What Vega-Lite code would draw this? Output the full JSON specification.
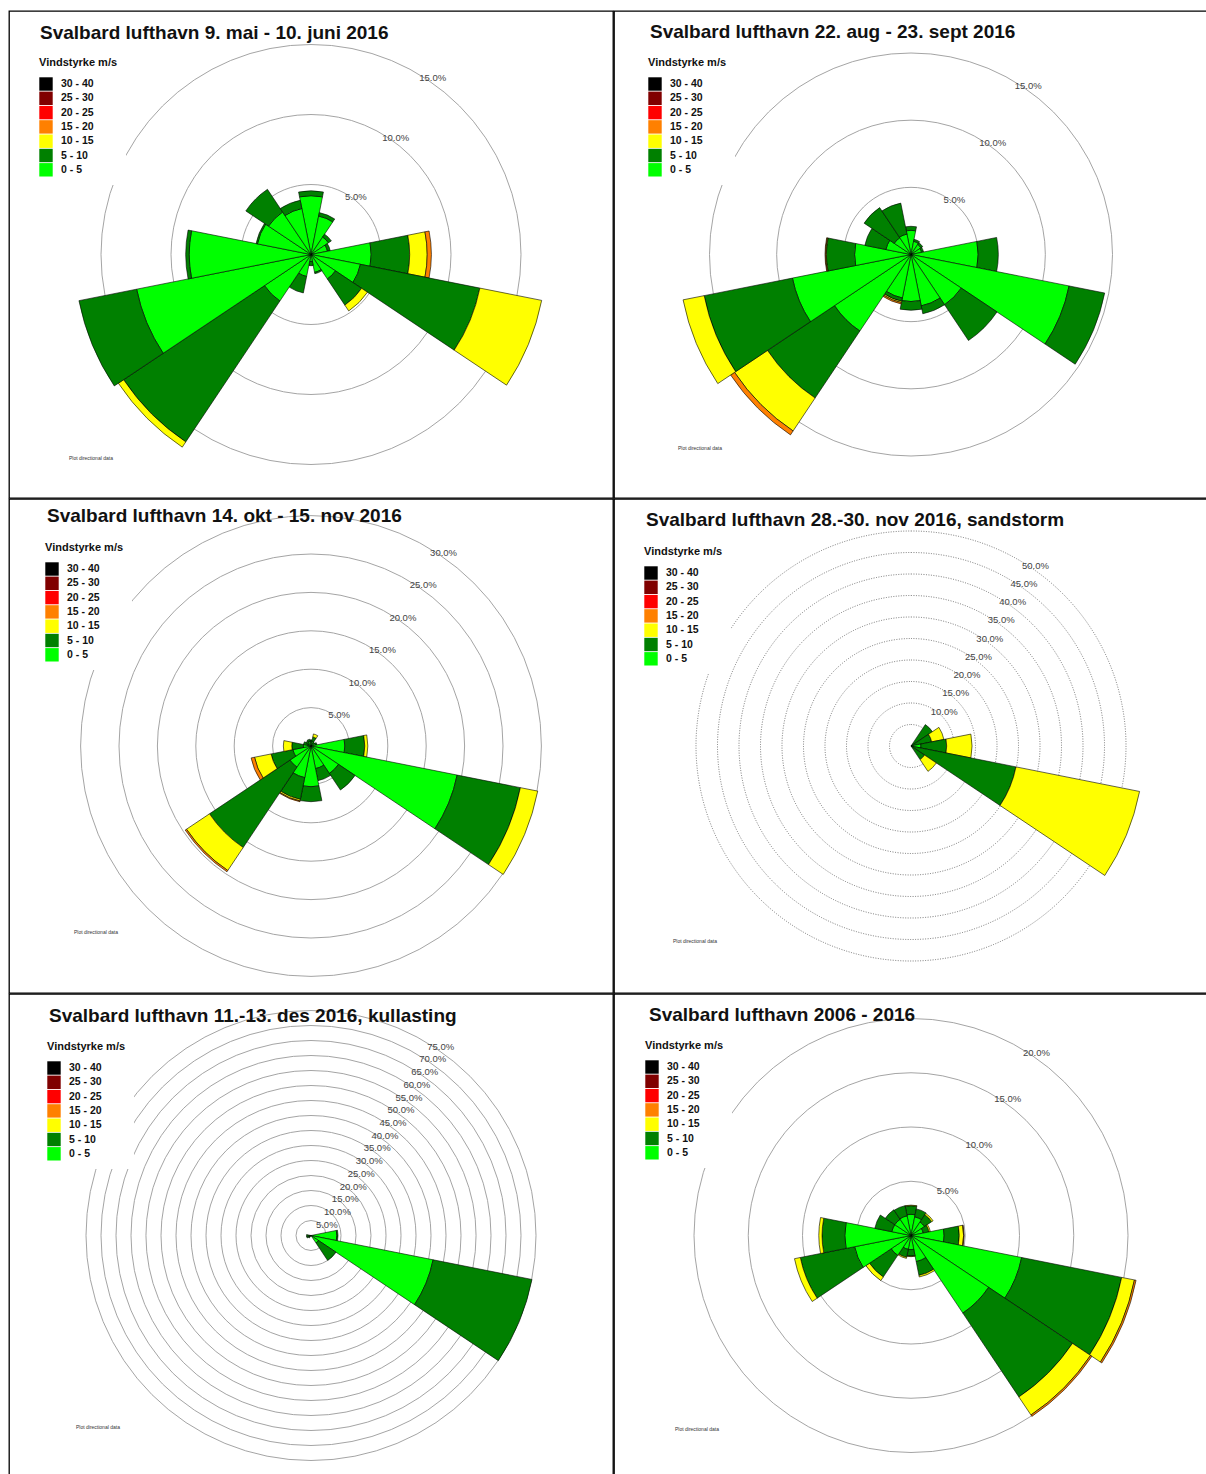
{
"$schema": "https://vega.github.io/schema/vega-lite/v6.json",
"padding": {"left": 8, "top": 10, "right": 0, "bottom": 0},
"spacing": -3,
"resolve": {"scale": {"color": "independent", "radius": "independent", "theta": "independent"}, "legend": {"color": "independent"}},
"config": {
  "view": {"stroke": "#000", "strokeWidth": 1.3},
  "font": "Liberation Sans",
  "title": {"fontSize": 19, "fontWeight": "bold", "color": "#111"},
  "legend": {"symbolType": "square", "symbolSize": 180, "symbolStrokeWidth": 0, "labelFontSize": 10.5, "labelFontWeight": "bold", "labelColor": "#111", "titleFontSize": 11, "titleFontWeight": "bold", "titleColor": "#111", "fillColor": "white", "padding": 8, "rowPadding": 0.3, "labelOffset": 8, "titlePadding": 9}
},
"datasets": {
"sec": [
{"p":1,"d":"N","s":"0 - 5","k":1,"v":4.2},{"p":1,"d":"N","s":"5 - 10","k":2,"v":0.35},
{"p":1,"d":"NNE","s":"0 - 5","k":1,"v":2.8},{"p":1,"d":"NNE","s":"5 - 10","k":2,"v":0.25},
{"p":1,"d":"NE","s":"0 - 5","k":1,"v":1.5},{"p":1,"d":"NE","s":"5 - 10","k":2,"v":0.25},
{"p":1,"d":"ENE","s":"0 - 5","k":1,"v":1.2},{"p":1,"d":"ENE","s":"5 - 10","k":2,"v":0.2},
{"p":1,"d":"E","s":"0 - 5","k":1,"v":4.3},{"p":1,"d":"E","s":"5 - 10","k":2,"v":2.75},{"p":1,"d":"E","s":"10 - 15","k":3,"v":1.25},{"p":1,"d":"E","s":"15 - 20","k":4,"v":0.3},
{"p":1,"d":"ESE","s":"0 - 5","k":1,"v":3.6},{"p":1,"d":"ESE","s":"5 - 10","k":2,"v":8.7},{"p":1,"d":"ESE","s":"10 - 15","k":3,"v":4.5},
{"p":1,"d":"SE","s":"0 - 5","k":1,"v":2.1},{"p":1,"d":"SE","s":"5 - 10","k":2,"v":2.25},{"p":1,"d":"SE","s":"10 - 15","k":3,"v":0.5},
{"p":1,"d":"SSE","s":"0 - 5","k":1,"v":1.3},{"p":1,"d":"SSE","s":"5 - 10","k":2,"v":0.1},
{"p":1,"d":"S","s":"0 - 5","k":1,"v":0.5},{"p":1,"d":"S","s":"5 - 10","k":2,"v":0.3},
{"p":1,"d":"SSW","s":"0 - 5","k":1,"v":1.6},{"p":1,"d":"SSW","s":"5 - 10","k":2,"v":1.2},
{"p":1,"d":"SW","s":"0 - 5","k":1,"v":4.0},{"p":1,"d":"SW","s":"5 - 10","k":2,"v":12.1},{"p":1,"d":"SW","s":"10 - 15","k":3,"v":0.45},
{"p":1,"d":"WSW","s":"0 - 5","k":1,"v":12.7},{"p":1,"d":"WSW","s":"5 - 10","k":2,"v":4.2},
{"p":1,"d":"W","s":"0 - 5","k":1,"v":8.7},{"p":1,"d":"W","s":"5 - 10","k":2,"v":0.25},
{"p":1,"d":"WNW","s":"0 - 5","k":1,"v":3.9},{"p":1,"d":"WNW","s":"5 - 10","k":2,"v":0.1},
{"p":1,"d":"NW","s":"0 - 5","k":1,"v":3.65},{"p":1,"d":"NW","s":"5 - 10","k":2,"v":1.95},
{"p":1,"d":"NNW","s":"0 - 5","k":1,"v":3.35},{"p":1,"d":"NNW","s":"5 - 10","k":2,"v":0.6},

{"p":2,"d":"N","s":"0 - 5","k":1,"v":1.8},{"p":2,"d":"N","s":"5 - 10","k":2,"v":0.3},
{"p":2,"d":"NNE","s":"0 - 5","k":1,"v":1.0},{"p":2,"d":"NNE","s":"5 - 10","k":2,"v":0.15},
{"p":2,"d":"NE","s":"0 - 5","k":1,"v":0.9},{"p":2,"d":"NE","s":"5 - 10","k":2,"v":0.15},
{"p":2,"d":"ENE","s":"0 - 5","k":1,"v":0.8},{"p":2,"d":"ENE","s":"5 - 10","k":2,"v":0.15},
{"p":2,"d":"E","s":"0 - 5","k":1,"v":5.0},{"p":2,"d":"E","s":"5 - 10","k":2,"v":1.5},
{"p":2,"d":"ESE","s":"0 - 5","k":1,"v":12.0},{"p":2,"d":"ESE","s":"5 - 10","k":2,"v":2.7},
{"p":2,"d":"SE","s":"0 - 5","k":1,"v":4.5},{"p":2,"d":"SE","s":"5 - 10","k":2,"v":3.2},
{"p":2,"d":"SSE","s":"0 - 5","k":1,"v":3.9},{"p":2,"d":"SSE","s":"5 - 10","k":2,"v":0.6},
{"p":2,"d":"S","s":"0 - 5","k":1,"v":3.5},{"p":2,"d":"S","s":"5 - 10","k":2,"v":0.65},
{"p":2,"d":"SSW","s":"0 - 5","k":1,"v":3.3},{"p":2,"d":"SSW","s":"5 - 10","k":2,"v":0.25},{"p":2,"d":"SSW","s":"10 - 15","k":3,"v":0.1},{"p":2,"d":"SSW","s":"15 - 20","k":4,"v":0.1},
{"p":2,"d":"SW","s":"0 - 5","k":1,"v":6.85},{"p":2,"d":"SW","s":"5 - 10","k":2,"v":6.0},{"p":2,"d":"SW","s":"10 - 15","k":3,"v":2.95},{"p":2,"d":"SW","s":"15 - 20","k":4,"v":0.35},
{"p":2,"d":"WSW","s":"0 - 5","k":1,"v":9.0},{"p":2,"d":"WSW","s":"5 - 10","k":2,"v":6.7},{"p":2,"d":"WSW","s":"10 - 15","k":3,"v":1.6},
{"p":2,"d":"W","s":"0 - 5","k":1,"v":4.2},{"p":2,"d":"W","s":"5 - 10","k":2,"v":2.1},{"p":2,"d":"W","s":"10 - 15","k":3,"v":0.05},{"p":2,"d":"W","s":"15 - 20","k":4,"v":0.05},
{"p":2,"d":"WNW","s":"0 - 5","k":1,"v":1.9},{"p":2,"d":"WNW","s":"5 - 10","k":2,"v":1.6},
{"p":2,"d":"NW","s":"0 - 5","k":1,"v":1.5},{"p":2,"d":"NW","s":"5 - 10","k":2,"v":2.7},
{"p":2,"d":"NNW","s":"0 - 5","k":1,"v":1.55},{"p":2,"d":"NNW","s":"5 - 10","k":2,"v":2.35},

{"p":3,"d":"N","s":"0 - 5","k":1,"v":0.5},{"p":3,"d":"N","s":"5 - 10","k":2,"v":0.3},
{"p":3,"d":"NNE","s":"0 - 5","k":1,"v":0.6},{"p":3,"d":"NNE","s":"5 - 10","k":2,"v":0.6},{"p":3,"d":"NNE","s":"10 - 15","k":3,"v":0.4},
{"p":3,"d":"NE","s":"0 - 5","k":1,"v":0.4},{"p":3,"d":"NE","s":"5 - 10","k":2,"v":0.2},
{"p":3,"d":"ENE","s":"0 - 5","k":1,"v":0.6},{"p":3,"d":"ENE","s":"5 - 10","k":2,"v":0.2},
{"p":3,"d":"E","s":"0 - 5","k":1,"v":4.4},{"p":3,"d":"E","s":"5 - 10","k":2,"v":2.6},{"p":3,"d":"E","s":"10 - 15","k":3,"v":0.4},
{"p":3,"d":"ESE","s":"0 - 5","k":1,"v":19.4},{"p":3,"d":"ESE","s":"5 - 10","k":2,"v":8.4},{"p":3,"d":"ESE","s":"10 - 15","k":3,"v":2.3},
{"p":3,"d":"SE","s":"0 - 5","k":1,"v":4.3},{"p":3,"d":"SE","s":"5 - 10","k":2,"v":2.6},
{"p":3,"d":"SSE","s":"0 - 5","k":1,"v":3.0},{"p":3,"d":"SSE","s":"5 - 10","k":2,"v":1.6},
{"p":3,"d":"S","s":"0 - 5","k":1,"v":5.3},{"p":3,"d":"S","s":"5 - 10","k":2,"v":1.95},
{"p":3,"d":"SSW","s":"0 - 5","k":1,"v":4.2},{"p":3,"d":"SSW","s":"5 - 10","k":2,"v":2.9},{"p":3,"d":"SSW","s":"10 - 15","k":3,"v":0.2},{"p":3,"d":"SSW","s":"15 - 20","k":4,"v":0.1},
{"p":3,"d":"SW","s":"0 - 5","k":1,"v":3.3},{"p":3,"d":"SW","s":"5 - 10","k":2,"v":12.6},{"p":3,"d":"SW","s":"10 - 15","k":3,"v":3.6},{"p":3,"d":"SW","s":"15 - 20","k":4,"v":0.2},
{"p":3,"d":"WSW","s":"0 - 5","k":1,"v":2.4},{"p":3,"d":"WSW","s":"5 - 10","k":2,"v":2.9},{"p":3,"d":"WSW","s":"10 - 15","k":3,"v":2.2},{"p":3,"d":"WSW","s":"15 - 20","k":4,"v":0.45},
{"p":3,"d":"W","s":"0 - 5","k":1,"v":1.0},{"p":3,"d":"W","s":"5 - 10","k":2,"v":1.5},{"p":3,"d":"W","s":"10 - 15","k":3,"v":1.1},
{"p":3,"d":"WNW","s":"0 - 5","k":1,"v":0.4},{"p":3,"d":"WNW","s":"5 - 10","k":2,"v":0.6},
{"p":3,"d":"NW","s":"0 - 5","k":1,"v":0.4},{"p":3,"d":"NW","s":"5 - 10","k":2,"v":0.4},
{"p":3,"d":"NNW","s":"0 - 5","k":1,"v":0.6},{"p":3,"d":"NNW","s":"5 - 10","k":2,"v":0.3},

{"p":4,"d":"NE","s":"0 - 5","k":1,"v":0.1},{"p":4,"d":"NE","s":"5 - 10","k":2,"v":5.9},
{"p":4,"d":"ENE","s":"0 - 5","k":1,"v":0.1},{"p":4,"d":"ENE","s":"5 - 10","k":2,"v":4.8},{"p":4,"d":"ENE","s":"10 - 15","k":3,"v":2.9},
{"p":4,"d":"E","s":"0 - 5","k":1,"v":2.3},{"p":4,"d":"E","s":"5 - 10","k":2,"v":6.0},{"p":4,"d":"E","s":"10 - 15","k":3,"v":5.9},
{"p":4,"d":"ESE","s":"0 - 5","k":1,"v":0.3},{"p":4,"d":"ESE","s":"5 - 10","k":2,"v":24.6},{"p":4,"d":"ESE","s":"10 - 15","k":3,"v":29.3},
{"p":4,"d":"SE","s":"0 - 5","k":1,"v":0.1},{"p":4,"d":"SE","s":"5 - 10","k":2,"v":3.7},{"p":4,"d":"SE","s":"10 - 15","k":3,"v":3.3},

{"p":5,"d":"E","s":"0 - 5","k":1,"v":8.6},{"p":5,"d":"E","s":"5 - 10","k":2,"v":0.4},
{"p":5,"d":"ESE","s":"0 - 5","k":1,"v":41.5},{"p":5,"d":"ESE","s":"5 - 10","k":2,"v":33.6},
{"p":5,"d":"SE","s":"0 - 5","k":1,"v":3.0},{"p":5,"d":"SE","s":"5 - 10","k":2,"v":7.0},
{"p":5,"d":"SW","s":"5 - 10","k":2,"v":1.0},
{"p":5,"d":"WSW","s":"5 - 10","k":2,"v":1.5},
{"p":5,"d":"W","s":"0 - 5","k":1,"v":0.3},{"p":5,"d":"W","s":"5 - 10","k":2,"v":1.2},

{"p":6,"d":"N","s":"0 - 5","k":1,"v":1.95},{"p":6,"d":"N","s":"5 - 10","k":2,"v":0.8},{"p":6,"d":"N","s":"10 - 15","k":3,"v":0.05},
{"p":6,"d":"NNE","s":"0 - 5","k":1,"v":1.75},{"p":6,"d":"NNE","s":"5 - 10","k":2,"v":0.75},
{"p":6,"d":"NE","s":"0 - 5","k":1,"v":1.5},{"p":6,"d":"NE","s":"5 - 10","k":2,"v":0.8},{"p":6,"d":"NE","s":"10 - 15","k":3,"v":0.15},
{"p":6,"d":"ENE","s":"0 - 5","k":1,"v":1.15},{"p":6,"d":"ENE","s":"5 - 10","k":2,"v":0.55},{"p":6,"d":"ENE","s":"10 - 15","k":3,"v":0.12},
{"p":6,"d":"E","s":"0 - 5","k":1,"v":3.05},{"p":6,"d":"E","s":"5 - 10","k":2,"v":1.4},{"p":6,"d":"E","s":"10 - 15","k":3,"v":0.4},{"p":6,"d":"E","s":"15 - 20","k":4,"v":0.05},
{"p":6,"d":"ESE","s":"0 - 5","k":1,"v":10.4},{"p":6,"d":"ESE","s":"5 - 10","k":2,"v":9.4},{"p":6,"d":"ESE","s":"10 - 15","k":3,"v":1.2},{"p":6,"d":"ESE","s":"15 - 20","k":4,"v":0.15},
{"p":6,"d":"SE","s":"0 - 5","k":1,"v":8.6},{"p":6,"d":"SE","s":"5 - 10","k":2,"v":9.3},{"p":6,"d":"SE","s":"10 - 15","k":3,"v":2.0},{"p":6,"d":"SE","s":"15 - 20","k":4,"v":0.15},
{"p":6,"d":"SSE","s":"0 - 5","k":1,"v":2.45},{"p":6,"d":"SSE","s":"5 - 10","k":2,"v":1.3},{"p":6,"d":"SSE","s":"10 - 15","k":3,"v":0.15},
{"p":6,"d":"S","s":"0 - 5","k":1,"v":1.3},{"p":6,"d":"S","s":"5 - 10","k":2,"v":0.6},{"p":6,"d":"S","s":"10 - 15","k":3,"v":0.05},
{"p":6,"d":"SSW","s":"0 - 5","k":1,"v":1.3},{"p":6,"d":"SSW","s":"5 - 10","k":2,"v":0.75},{"p":6,"d":"SSW","s":"10 - 15","k":3,"v":0.1},
{"p":6,"d":"SW","s":"0 - 5","k":1,"v":2.2},{"p":6,"d":"SW","s":"5 - 10","k":2,"v":2.4},{"p":6,"d":"SW","s":"10 - 15","k":3,"v":0.4},
{"p":6,"d":"WSW","s":"0 - 5","k":1,"v":5.3},{"p":6,"d":"WSW","s":"5 - 10","k":2,"v":5.1},{"p":6,"d":"WSW","s":"10 - 15","k":3,"v":0.55},
{"p":6,"d":"W","s":"0 - 5","k":1,"v":6.1},{"p":6,"d":"W","s":"5 - 10","k":2,"v":2.1},{"p":6,"d":"W","s":"10 - 15","k":3,"v":0.3},
{"p":6,"d":"WNW","s":"0 - 5","k":1,"v":1.8},{"p":6,"d":"WNW","s":"5 - 10","k":2,"v":1.6},
{"p":6,"d":"NW","s":"0 - 5","k":1,"v":1.8},{"p":6,"d":"NW","s":"5 - 10","k":2,"v":1.05},
{"p":6,"d":"NNW","s":"0 - 5","k":1,"v":1.85},{"p":6,"d":"NNW","s":"5 - 10","k":2,"v":0.95}
],
"rings": [
{"p":1,"r":5,"lab":"5.0%"},{"p":1,"r":10,"lab":"10.0%"},{"p":1,"r":15,"lab":"15.0%"},
{"p":2,"r":5,"lab":"5.0%"},{"p":2,"r":10,"lab":"10.0%"},{"p":2,"r":15,"lab":"15.0%"},
{"p":3,"r":5,"lab":"5.0%"},{"p":3,"r":10,"lab":"10.0%"},{"p":3,"r":15,"lab":"15.0%"},{"p":3,"r":20,"lab":"20.0%"},{"p":3,"r":25,"lab":"25.0%"},{"p":3,"r":30,"lab":"30.0%"},
{"p":4,"r":5,"lab":""},{"p":4,"r":10,"lab":"10.0%"},{"p":4,"r":15,"lab":"15.0%"},{"p":4,"r":20,"lab":"20.0%"},{"p":4,"r":25,"lab":"25.0%"},{"p":4,"r":30,"lab":"30.0%"},{"p":4,"r":35,"lab":"35.0%"},{"p":4,"r":40,"lab":"40.0%"},{"p":4,"r":45,"lab":"45.0%"},{"p":4,"r":50,"lab":"50.0%"},
{"p":5,"r":5,"lab":"5.0%"},{"p":5,"r":10,"lab":"10.0%"},{"p":5,"r":15,"lab":"15.0%"},{"p":5,"r":20,"lab":"20.0%"},{"p":5,"r":25,"lab":"25.0%"},{"p":5,"r":30,"lab":"30.0%"},{"p":5,"r":35,"lab":"35.0%"},{"p":5,"r":40,"lab":"40.0%"},{"p":5,"r":45,"lab":"45.0%"},{"p":5,"r":50,"lab":"50.0%"},{"p":5,"r":55,"lab":"55.0%"},{"p":5,"r":60,"lab":"60.0%"},{"p":5,"r":65,"lab":"65.0%"},{"p":5,"r":70,"lab":"70.0%"},{"p":5,"r":75,"lab":"75.0%"},
{"p":6,"r":5,"lab":"5.0%"},{"p":6,"r":10,"lab":"10.0%"},{"p":6,"r":15,"lab":"15.0%"},{"p":6,"r":20,"lab":"20.0%"}
]
},
"vconcat": [
{"hconcat": [
  {"title": {"text": "Svalbard lufthavn 9. mai - 10. juni 2016", "anchor": "start", "frame": "group", "dx": 31, "offset": -42, "baseline": "middle"},
   "resolve": {"scale": {"color": "independent", "radius": "independent", "theta": "independent"}, "legend": {"color": "independent"}},
   "vconcat": [{
    "width": 604, "height": 487,
    "view": {"stroke": "#000", "strokeWidth": 1.3},
    "title": {"text": "Plot directional data", "orient": "bottom", "anchor": "start", "frame": "group", "dx": 60, "offset": -40, "baseline": "middle", "fontSize": 5, "fontWeight": "normal", "color": "#333"},
    "layer": [
      {"data": {"name": "rings"}, "transform": [{"filter": "datum.p == 1"}],
       "mark": {"type": "arc", "theta": 0, "theta2": 6.2832, "filled": false, "stroke": "#9a9a9a", "strokeWidth": 0.9},
       "encoding": {"radius": {"field": "r", "type": "quantitative", "stack": null, "scale": {"type": "linear", "domain": [0, 15], "range": [0, 210], "nice": false, "zero": true}}}},
      {"data": {"name": "sec"}, "transform": [{"filter": "datum.p == 1"}],
       "mark": {"type": "arc", "stroke": "#000", "strokeWidth": 0.6},
       "encoding": {
         "theta": {"field": "d", "type": "nominal", "scale": {"type": "band", "domain": ["N","NNE","NE","ENE","E","ESE","SE","SSE","S","SSW","SW","WSW","W","WNW","NW","NNW"], "range": [-0.19635, 6.08684], "paddingInner": 0, "paddingOuter": 0}},
         "radius": {"field": "v", "type": "quantitative", "stack": "zero", "scale": {"type": "linear", "domain": [0, 15], "range": [0, 210], "nice": false, "zero": true}},
         "color": {"field": "s", "type": "nominal", "scale": {"domain": ["30 - 40","25 - 30","20 - 25","15 - 20","10 - 15","5 - 10","0 - 5"], "range": ["#000000","#800000","#ff0000","#ff8000","#ffff00","#008000","#00ff00"]}, "legend": {"title": "Vindstyrke m/s", "orient": "none", "legendX": 22, "legendY": 38}},
         "order": {"field": "k", "type": "quantitative"}}},
      {"data": {"name": "rings"}, "transform": [{"filter": "datum.p == 1"}],
       "mark": {"type": "text", "align": "left", "baseline": "middle", "dx": -3, "dy": 2, "fontSize": 9.5, "color": "#444"},
       "encoding": {"theta": {"value": 0.5585}, "radius": {"field": "r", "type": "quantitative", "stack": null, "scale": {"type": "linear", "domain": [0, 15], "range": [0, 210], "nice": false, "zero": true}}, "text": {"field": "lab"}}}
    ]}]},
  {"title": {"text": "Svalbard lufthavn 22. aug - 23. sept 2016", "anchor": "start", "frame": "group", "dx": 36, "offset": -41, "baseline": "middle"},
   "resolve": {"scale": {"color": "independent", "radius": "independent", "theta": "independent"}, "legend": {"color": "independent"}},
   "vconcat": [{
    "width": 594, "height": 487,
    "view": {"stroke": "#000", "strokeWidth": 1.3},
    "title": {"text": "Plot directional data", "orient": "bottom", "anchor": "start", "frame": "group", "dx": 64, "offset": -50, "baseline": "middle", "fontSize": 5, "fontWeight": "normal", "color": "#333"},
    "layer": [
      {"data": {"name": "rings"}, "transform": [{"filter": "datum.p == 2"}],
       "mark": {"type": "arc", "theta": 0, "theta2": 6.2832, "filled": false, "stroke": "#9a9a9a", "strokeWidth": 0.9},
       "encoding": {"radius": {"field": "r", "type": "quantitative", "stack": null, "scale": {"type": "linear", "domain": [0, 15], "range": [0, 201.5], "nice": false, "zero": true}}}},
      {"data": {"name": "sec"}, "transform": [{"filter": "datum.p == 2"}],
       "mark": {"type": "arc", "stroke": "#000", "strokeWidth": 0.6},
       "encoding": {
         "theta": {"field": "d", "type": "nominal", "scale": {"type": "band", "domain": ["N","NNE","NE","ENE","E","ESE","SE","SSE","S","SSW","SW","WSW","W","WNW","NW","NNW"], "range": [-0.19635, 6.08684], "paddingInner": 0, "paddingOuter": 0}},
         "radius": {"field": "v", "type": "quantitative", "stack": "zero", "scale": {"type": "linear", "domain": [0, 15], "range": [0, 201.5], "nice": false, "zero": true}},
         "color": {"field": "s", "type": "nominal", "scale": {"domain": ["30 - 40","25 - 30","20 - 25","15 - 20","10 - 15","5 - 10","0 - 5"], "range": ["#000000","#800000","#ff0000","#ff8000","#ffff00","#008000","#00ff00"]}, "legend": {"title": "Vindstyrke m/s", "orient": "none", "legendX": 26, "legendY": 38}},
         "order": {"field": "k", "type": "quantitative"}}},
      {"data": {"name": "rings"}, "transform": [{"filter": "datum.p == 2"}],
       "mark": {"type": "text", "align": "left", "baseline": "middle", "dx": -3, "dy": 2, "fontSize": 9.5, "color": "#444"},
       "encoding": {"theta": {"value": 0.5585}, "radius": {"field": "r", "type": "quantitative", "stack": null, "scale": {"type": "linear", "domain": [0, 15], "range": [0, 201.5], "nice": false, "zero": true}}, "text": {"field": "lab"}}}
    ]}]}
 ], "spacing": -3,
 "resolve": {"scale": {"color": "independent", "radius": "independent", "theta": "independent"}, "legend": {"color": "independent"}}},
{"hconcat": [
  {"title": {"text": "Svalbard lufthavn 14. okt - 15. nov 2016", "anchor": "start", "frame": "group", "dx": 38, "offset": -37, "baseline": "middle"},
   "resolve": {"scale": {"color": "independent", "radius": "independent", "theta": "independent"}, "legend": {"color": "independent"}},
   "vconcat": [{
    "width": 604, "height": 494,
    "view": {"stroke": "#000", "strokeWidth": 1.3},
    "title": {"text": "Plot directional data", "orient": "bottom", "anchor": "start", "frame": "group", "dx": 65, "offset": -61, "baseline": "middle", "fontSize": 5, "fontWeight": "normal", "color": "#333"},
    "layer": [
      {"data": {"name": "rings"}, "transform": [{"filter": "datum.p == 3"}],
       "mark": {"type": "arc", "theta": 0, "theta2": 6.2832, "filled": false, "stroke": "#9a9a9a", "strokeWidth": 0.9},
       "encoding": {"radius": {"field": "r", "type": "quantitative", "stack": null, "scale": {"type": "linear", "domain": [0, 30], "range": [0, 230.4], "nice": false, "zero": true}}}},
      {"data": {"name": "sec"}, "transform": [{"filter": "datum.p == 3"}],
       "mark": {"type": "arc", "stroke": "#000", "strokeWidth": 0.6},
       "encoding": {
         "theta": {"field": "d", "type": "nominal", "scale": {"type": "band", "domain": ["N","NNE","NE","ENE","E","ESE","SE","SSE","S","SSW","SW","WSW","W","WNW","NW","NNW"], "range": [-0.19635, 6.08684], "paddingInner": 0, "paddingOuter": 0}},
         "radius": {"field": "v", "type": "quantitative", "stack": "zero", "scale": {"type": "linear", "domain": [0, 30], "range": [0, 230.4], "nice": false, "zero": true}},
         "color": {"field": "s", "type": "nominal", "scale": {"domain": ["30 - 40","25 - 30","20 - 25","15 - 20","10 - 15","5 - 10","0 - 5"], "range": ["#000000","#800000","#ff0000","#ff8000","#ffff00","#008000","#00ff00"]}, "legend": {"title": "Vindstyrke m/s", "orient": "none", "legendX": 28, "legendY": 35}},
         "order": {"field": "k", "type": "quantitative"}}},
      {"data": {"name": "rings"}, "transform": [{"filter": "datum.p == 3"}],
       "mark": {"type": "text", "align": "left", "baseline": "middle", "dx": -3, "dy": 2, "fontSize": 9.5, "color": "#444"},
       "encoding": {"theta": {"value": 0.5585}, "radius": {"field": "r", "type": "quantitative", "stack": null, "scale": {"type": "linear", "domain": [0, 30], "range": [0, 230.4], "nice": false, "zero": true}}, "text": {"field": "lab"}}}
    ]}]},
  {"title": {"text": "Svalbard lufthavn 28.-30. nov 2016, sandstorm", "anchor": "start", "frame": "group", "dx": 32, "offset": -41, "baseline": "middle"},
   "resolve": {"scale": {"color": "independent", "radius": "independent", "theta": "independent"}, "legend": {"color": "independent"}},
   "vconcat": [{
    "width": 594, "height": 494,
    "view": {"stroke": "#000", "strokeWidth": 1.3},
    "title": {"text": "Plot directional data", "orient": "bottom", "anchor": "start", "frame": "group", "dx": 59, "offset": -52, "baseline": "middle", "fontSize": 5, "fontWeight": "normal", "color": "#333"},
    "layer": [
      {"data": {"name": "rings"}, "transform": [{"filter": "datum.p == 4"}],
       "mark": {"type": "arc", "theta": 0, "theta2": 6.2832, "filled": false, "stroke": "#555", "strokeWidth": 0.8, "strokeDash": [1, 1.5]},
       "encoding": {"radius": {"field": "r", "type": "quantitative", "stack": null, "scale": {"type": "linear", "domain": [0, 50], "range": [0, 215], "nice": false, "zero": true}}}},
      {"data": {"name": "sec"}, "transform": [{"filter": "datum.p == 4"}],
       "mark": {"type": "arc", "stroke": "#000", "strokeWidth": 0.6},
       "encoding": {
         "theta": {"field": "d", "type": "nominal", "scale": {"type": "band", "domain": ["N","NNE","NE","ENE","E","ESE","SE","SSE","S","SSW","SW","WSW","W","WNW","NW","NNW"], "range": [-0.19635, 6.08684], "paddingInner": 0, "paddingOuter": 0}},
         "radius": {"field": "v", "type": "quantitative", "stack": "zero", "scale": {"type": "linear", "domain": [0, 50], "range": [0, 215], "nice": false, "zero": true}},
         "color": {"field": "s", "type": "nominal", "scale": {"domain": ["30 - 40","25 - 30","20 - 25","15 - 20","10 - 15","5 - 10","0 - 5"], "range": ["#000000","#800000","#ff0000","#ff8000","#ffff00","#008000","#00ff00"]}, "legend": {"title": "Vindstyrke m/s", "orient": "none", "legendX": 22, "legendY": 39}},
         "order": {"field": "k", "type": "quantitative"}}},
      {"data": {"name": "rings"}, "transform": [{"filter": "datum.p == 4"}],
       "mark": {"type": "text", "align": "left", "baseline": "middle", "dx": -3, "dy": 2, "fontSize": 9.5, "color": "#444"},
       "encoding": {"theta": {"value": 0.5585}, "radius": {"field": "r", "type": "quantitative", "stack": null, "scale": {"type": "linear", "domain": [0, 50], "range": [0, 215], "nice": false, "zero": true}}, "text": {"field": "lab"}}}
    ]}]}
 ], "spacing": -3,
 "resolve": {"scale": {"color": "independent", "radius": "independent", "theta": "independent"}, "legend": {"color": "independent"}}},
{"hconcat": [
  {"title": {"text": "Svalbard lufthavn 11.-13. des 2016, kullasting", "anchor": "start", "frame": "group", "dx": 40, "offset": -42, "baseline": "middle"},
   "resolve": {"scale": {"color": "independent", "radius": "independent", "theta": "independent"}, "legend": {"color": "independent"}},
   "vconcat": [{
    "width": 604, "height": 483,
    "view": {"stroke": "#000", "strokeWidth": 1.3},
    "title": {"text": "Plot directional data", "orient": "bottom", "anchor": "start", "frame": "group", "dx": 67, "offset": -50, "baseline": "middle", "fontSize": 5, "fontWeight": "normal", "color": "#333"},
    "layer": [
      {"data": {"name": "rings"}, "transform": [{"filter": "datum.p == 5"}],
       "mark": {"type": "arc", "theta": 0, "theta2": 6.2832, "filled": false, "stroke": "#9a9a9a", "strokeWidth": 0.9},
       "encoding": {"radius": {"field": "r", "type": "quantitative", "stack": null, "scale": {"type": "linear", "domain": [0, 75], "range": [0, 225], "nice": false, "zero": true}}}},
      {"data": {"name": "sec"}, "transform": [{"filter": "datum.p == 5"}],
       "mark": {"type": "arc", "stroke": "#000", "strokeWidth": 0.6},
       "encoding": {
         "theta": {"field": "d", "type": "nominal", "scale": {"type": "band", "domain": ["N","NNE","NE","ENE","E","ESE","SE","SSE","S","SSW","SW","WSW","W","WNW","NW","NNW"], "range": [-0.19635, 6.08684], "paddingInner": 0, "paddingOuter": 0}},
         "radius": {"field": "v", "type": "quantitative", "stack": "zero", "scale": {"type": "linear", "domain": [0, 75], "range": [0, 225], "nice": false, "zero": true}},
         "color": {"field": "s", "type": "nominal", "scale": {"domain": ["30 - 40","25 - 30","20 - 25","15 - 20","10 - 15","5 - 10","0 - 5"], "range": ["#000000","#800000","#ff0000","#ff8000","#ffff00","#008000","#00ff00"]}, "legend": {"title": "Vindstyrke m/s", "orient": "none", "legendX": 30, "legendY": 39}},
         "order": {"field": "k", "type": "quantitative"}}},
      {"data": {"name": "rings"}, "transform": [{"filter": "datum.p == 5"}],
       "mark": {"type": "text", "align": "left", "baseline": "middle", "dx": -3, "dy": 2, "fontSize": 9.5, "color": "#444"},
       "encoding": {"theta": {"value": 0.5585}, "radius": {"field": "r", "type": "quantitative", "stack": null, "scale": {"type": "linear", "domain": [0, 75], "range": [0, 225], "nice": false, "zero": true}}, "text": {"field": "lab"}}}
    ]}]},
  {"title": {"text": "Svalbard lufthavn 2006 - 2016", "anchor": "start", "frame": "group", "dx": 35, "offset": -41, "baseline": "middle"},
   "resolve": {"scale": {"color": "independent", "radius": "independent", "theta": "independent"}, "legend": {"color": "independent"}},
   "vconcat": [{
    "width": 594, "height": 483,
    "view": {"stroke": "#000", "strokeWidth": 1.3},
    "title": {"text": "Plot directional data", "orient": "bottom", "anchor": "start", "frame": "group", "dx": 61, "offset": -48, "baseline": "middle", "fontSize": 5, "fontWeight": "normal", "color": "#333"},
    "layer": [
      {"data": {"name": "rings"}, "transform": [{"filter": "datum.p == 6"}],
       "mark": {"type": "arc", "theta": 0, "theta2": 6.2832, "filled": false, "stroke": "#9a9a9a", "strokeWidth": 0.9},
       "encoding": {"radius": {"field": "r", "type": "quantitative", "stack": null, "scale": {"type": "linear", "domain": [0, 20], "range": [0, 217], "nice": false, "zero": true}}}},
      {"data": {"name": "sec"}, "transform": [{"filter": "datum.p == 6"}],
       "mark": {"type": "arc", "stroke": "#000", "strokeWidth": 0.6},
       "encoding": {
         "theta": {"field": "d", "type": "nominal", "scale": {"type": "band", "domain": ["N","NNE","NE","ENE","E","ESE","SE","SSE","S","SSW","SW","WSW","W","WNW","NW","NNW"], "range": [-0.19635, 6.08684], "paddingInner": 0, "paddingOuter": 0}},
         "radius": {"field": "v", "type": "quantitative", "stack": "zero", "scale": {"type": "linear", "domain": [0, 20], "range": [0, 217], "nice": false, "zero": true}},
         "color": {"field": "s", "type": "nominal", "scale": {"domain": ["30 - 40","25 - 30","20 - 25","15 - 20","10 - 15","5 - 10","0 - 5"], "range": ["#000000","#800000","#ff0000","#ff8000","#ffff00","#008000","#00ff00"]}, "legend": {"title": "Vindstyrke m/s", "orient": "none", "legendX": 23, "legendY": 38}},
         "order": {"field": "k", "type": "quantitative"}}},
      {"data": {"name": "rings"}, "transform": [{"filter": "datum.p == 6"}],
       "mark": {"type": "text", "align": "left", "baseline": "middle", "dx": -3, "dy": 2, "fontSize": 9.5, "color": "#444"},
       "encoding": {"theta": {"value": 0.5585}, "radius": {"field": "r", "type": "quantitative", "stack": null, "scale": {"type": "linear", "domain": [0, 20], "range": [0, 217], "nice": false, "zero": true}}, "text": {"field": "lab"}}}
    ]}]}
 ], "spacing": -3,
 "resolve": {"scale": {"color": "independent", "radius": "independent", "theta": "independent"}, "legend": {"color": "independent"}}}
]
}
